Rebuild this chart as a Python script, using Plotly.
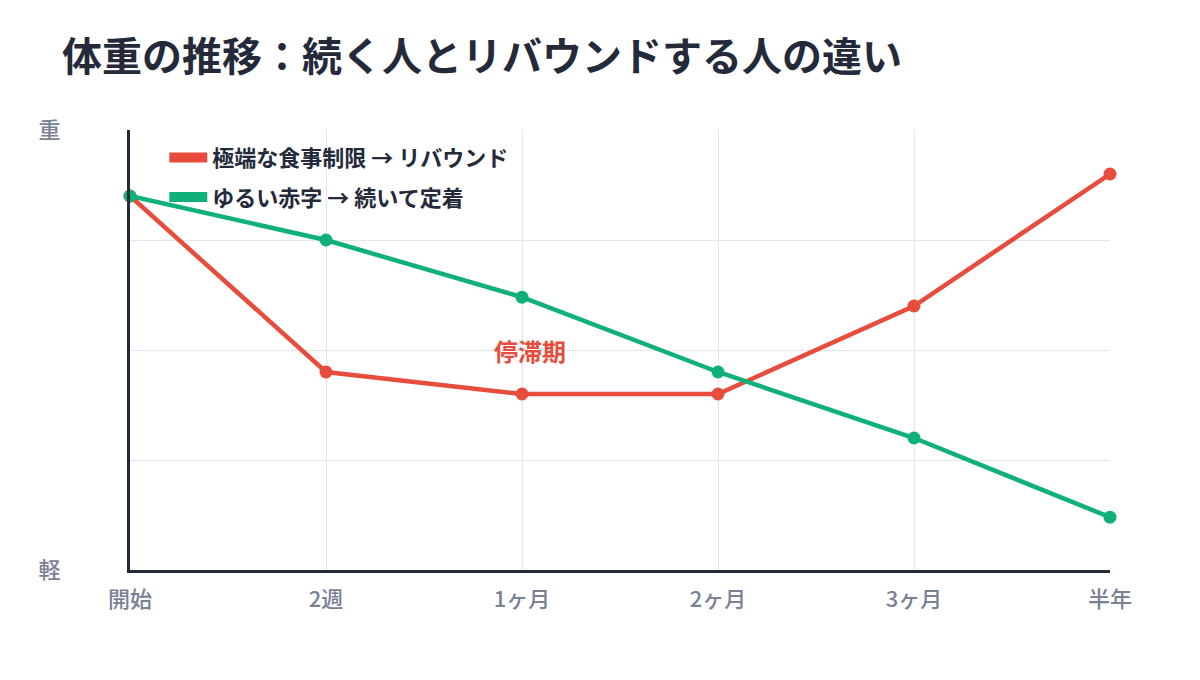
import plotly.graph_objects as go

categories = ["開始", "2週", "1ヶ月", "2ヶ月", "3ヶ月", "半年"]
red_values = [85, 45, 40, 40, 60, 90]
green_values = [85, 75, 62, 45, 30, 12]
red_name = "極端な食事制限 → リバウンド"
green_name = "ゆるい赤字 → 続いて定着"
y_tickvals = [0, 25, 50, 75, 100]
y_ticktext = ["軽", "", "", "", "重"]
title_text = "体重の推移：続く人とリバウンドする人の違い"
note_text = "停滞期"

RED = "#e74c3c"
GREEN = "#10b07a"
DARK = "#242a3a"
GRAY = "#788196"
FONT = "Noto Sans CJK JP"

fig = go.Figure()
for name, vals, col in [(red_name, red_values, RED), (green_name, green_values, GREEN)]:
    fig.add_trace(go.Scatter(
        x=categories, y=vals, mode="lines+markers", name=name,
        line=dict(color=col, width=4.5), marker=dict(color=col, size=13),
        cliponaxis=False, showlegend=False,
    ))
for i, (name, col) in enumerate([(red_name, RED), (green_name, GREEN)]):
    fig.add_trace(go.Scatter(
        x=[None], y=[None], mode="lines", name=name, legendgroup=f"g{i}",
        line=dict(color=col, width=10), showlegend=True,
    ))

fig.add_annotation(
    x=2.04, y=50, xref="x", yref="y", text=f"<b>{note_text}</b>", showarrow=False,
    font=dict(family=FONT, size=24, color=RED),
)

fig.update_layout(
    width=1200, height=680,
    margin=dict(l=130, r=90, t=130, b=110),
    paper_bgcolor="white", plot_bgcolor="white",
    font=dict(family=FONT),
    title=dict(text=f"<b>{title_text}</b>", x=62/1200, xref="container", xanchor="left",
               y=0.916, yref="container", yanchor="middle",
               font=dict(family=FONT, size=40, color=DARK)),
    legend=dict(x=0.035, y=0.985, xanchor="left", yanchor="top",
                bgcolor="rgba(0,0,0,0)", itemwidth=38, tracegroupgap=8,
                font=dict(family=FONT, size=22, color=DARK, weight="bold")),
    showlegend=True,
)

fig.update_xaxes(
    type="category", range=[0, 5], showgrid=True, gridcolor="#e3e6ee", gridwidth=1,
    showline=True, linecolor=DARK, linewidth=3, ticks="", zeroline=False,
    tickfont=dict(family=FONT, size=22, color=GRAY, weight=500), ticklabelstandoff=8,
)
fig.update_yaxes(
    range=[0, 100], tickvals=y_tickvals, ticktext=y_ticktext, showgrid=True,
    gridcolor="#e3e6ee", gridwidth=1, showline=True, linecolor=DARK, linewidth=3,
    ticks="", zeroline=False, ticklabelstandoff=62,
    tickfont=dict(family=FONT, size=22, color=GRAY, weight=500),
)

fig.write_html("out.html")
